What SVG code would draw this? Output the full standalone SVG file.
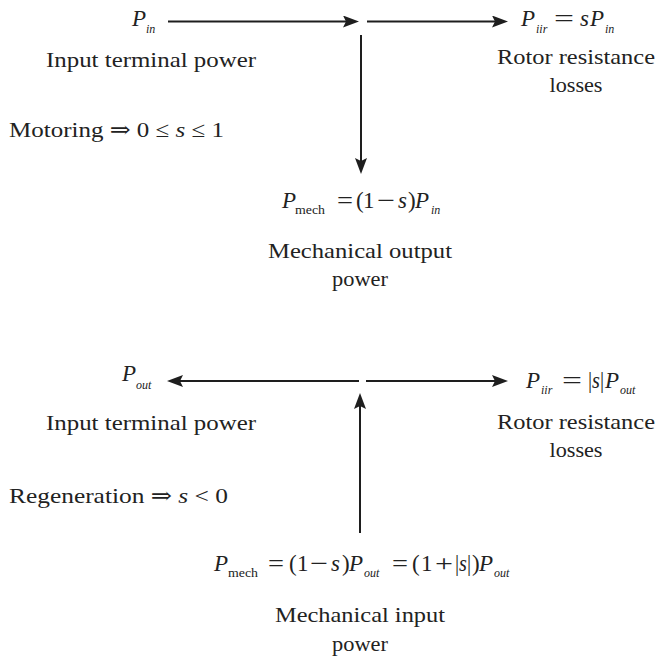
<svg xmlns="http://www.w3.org/2000/svg" width="656" height="657" viewBox="0 0 656 657">
<defs>
<style>
text{font-family:'Liberation Serif','DejaVu Serif','Times New Roman',serif;fill:#222;font-size:22px}
.m{font-size:23px}
.it{font-style:italic}
.sub{font-size:12px}
.c{text-anchor:middle}
.ln{stroke:#1e1e1e;stroke-width:2;fill:none;marker-end:url(#ah)}
</style>
<marker id="ah" viewBox="0 0 16 12" refX="8" refY="6" markerWidth="16" markerHeight="12" markerUnits="userSpaceOnUse" orient="auto">
<path d="M0,0 L16,6 L0,12 L3,6 z" fill="#1e1e1e"/>
</marker>
</defs>
<rect width="656" height="657" fill="#fff"/>
<g id="connectors">
<line class="ln" x1="168" y1="21.5" x2="351" y2="21.5"/>
<line class="ln" x1="367" y1="21.5" x2="500" y2="21.5"/>
<line class="ln" x1="361" y1="35" x2="361" y2="166"/>
<line class="ln" x1="359" y1="381" x2="175" y2="381"/>
<line class="ln" x1="366" y1="381" x2="500" y2="381"/>
<line class="ln" x1="360" y1="533" x2="360" y2="401"/>
</g>
<g id="top-input">
<text class="m it" x="132" y="26">P</text><text class="it sub" x="146" y="33">in</text>
<text x="46" y="67" textLength="210" lengthAdjust="spacingAndGlyphs">Input terminal power</text>
</g>
<g id="top-losses">
<text class="m it" x="521" y="26">P</text><text class="it sub" x="536" y="33">iir</text>
<text class="m" x="554" y="26" textLength="20" lengthAdjust="spacingAndGlyphs">=</text>
<text class="m it" x="580" y="26">s</text><text class="m it" x="590" y="26">P</text><text class="it sub" x="605" y="33">in</text>
<text class="c" x="576" y="64" textLength="158" lengthAdjust="spacingAndGlyphs">Rotor resistance</text>
<text class="c" x="576" y="92" textLength="53" lengthAdjust="spacingAndGlyphs">losses</text>
</g>
<g id="motoring">
<text x="9" y="137" textLength="215" lengthAdjust="spacingAndGlyphs">Motoring ⇒ 0 ≤ <tspan class="it">s</tspan> ≤ 1</text>
</g>
<g id="top-mech">
<text class="m it" x="282" y="208">P</text><text class="sub" x="295" y="214" textLength="30" lengthAdjust="spacingAndGlyphs">mech</text>
<text class="m" x="337" y="208" textLength="16" lengthAdjust="spacingAndGlyphs">=</text>
<text class="m" x="356" y="208">(</text><text class="m" x="363" y="208">1</text>
<text class="m" x="377" y="208" textLength="18" lengthAdjust="spacingAndGlyphs">−</text>
<text class="m it" x="398" y="208">s</text><text class="m" x="408" y="208">)</text>
<text class="m it" x="415" y="208">P</text><text class="it sub" x="431" y="214">in</text>
<text class="c" x="360" y="258" textLength="184" lengthAdjust="spacingAndGlyphs">Mechanical output</text>
<text class="c" x="360" y="286" textLength="56" lengthAdjust="spacingAndGlyphs">power</text>
</g>
<g id="bottom-output">
<text class="m it" x="122" y="381">P</text><text class="it sub" x="136" y="389">out</text>
<text x="46" y="430" textLength="210" lengthAdjust="spacingAndGlyphs">Input terminal power</text>
</g>
<g id="bottom-losses">
<text class="m it" x="526" y="388">P</text><text class="it sub" x="541" y="394">iir</text>
<text class="m" x="562" y="388" textLength="20" lengthAdjust="spacingAndGlyphs">=</text>
<text class="m" x="588" y="388" textLength="16" lengthAdjust="spacingAndGlyphs">|<tspan class="it">s</tspan>|</text>
<text class="m it" x="605" y="388">P</text><text class="it sub" x="620" y="394">out</text>
<text class="c" x="576" y="429" textLength="158" lengthAdjust="spacingAndGlyphs">Rotor resistance</text>
<text class="c" x="576" y="457" textLength="53" lengthAdjust="spacingAndGlyphs">losses</text>
</g>
<g id="regeneration">
<text x="9" y="503" textLength="219" lengthAdjust="spacingAndGlyphs">Regeneration ⇒ <tspan class="it">s</tspan> &lt; 0</text>
</g>
<g id="bottom-mech">
<text class="m it" x="214" y="571">P</text><text class="sub" x="228" y="577" textLength="30" lengthAdjust="spacingAndGlyphs">mech</text>
<text class="m" x="268" y="571" textLength="16" lengthAdjust="spacingAndGlyphs">=</text>
<text class="m" x="289" y="571">(</text><text class="m" x="297" y="571">1</text>
<text class="m" x="310" y="571" textLength="18" lengthAdjust="spacingAndGlyphs">−</text>
<text class="m it" x="331" y="571">s</text><text class="m" x="342" y="571">)</text>
<text class="m it" x="349" y="571">P</text><text class="it sub" x="364" y="577">out</text>
<text class="m" x="392" y="571" textLength="16" lengthAdjust="spacingAndGlyphs">=</text>
<text class="m" x="412" y="571">(</text><text class="m" x="421" y="571">1</text>
<text class="m" x="435" y="571" textLength="18" lengthAdjust="spacingAndGlyphs">+</text>
<text class="m" x="455" y="571" textLength="16" lengthAdjust="spacingAndGlyphs">|<tspan class="it">s</tspan>|</text><text class="m" x="472" y="571">)</text>
<text class="m it" x="479" y="571">P</text><text class="it sub" x="494" y="577">out</text>
<text class="c" x="360" y="622" textLength="170" lengthAdjust="spacingAndGlyphs">Mechanical input</text>
<text class="c" x="360" y="651" textLength="56" lengthAdjust="spacingAndGlyphs">power</text>
</g>
</svg>
